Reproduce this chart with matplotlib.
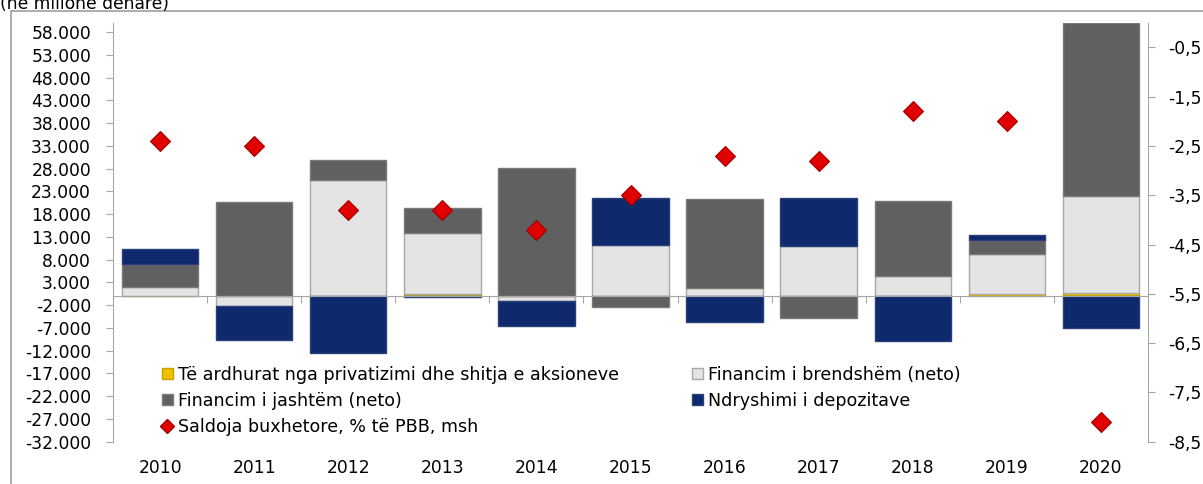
import matplotlib
matplotlib.use("Agg")
import matplotlib.pyplot as plt
import numpy as np
from matplotlib.patches import Rectangle
from matplotlib.lines import Line2D
from matplotlib.ticker import FuncFormatter

years = ["2010", "2011", "2012", "2013", "2014", "2015", "2016", "2017", "2018", "2019", "2020"]
privatization = [0, 0, 0, 400, 100, 0, 0, 0, 0, 400, 700]
domestic = [1900, -2200, 25500, 13400, -1000, 11200, 1800, 11000, 4400, 8800, 21300]
external = [5100, 20700, 4400, 5600, 28100, -2500, 19500, -4900, 16600, 3100, 38100]
deposits = [3400, -7500, -12500, -300, -5500, 10400, -5600, 10600, -9800, 1100, -7000]
balance = [-2.4, -2.5, -3.8, -3.8, -4.2, -3.5, -2.7, -2.8, -1.8, -2.0, -8.1]

labels = ["Të ardhurat nga privatizimi dhe shitja e aksioneve",
          "Financim i brendshëm (neto)",
          "Financim i jashtëm (neto)",
          "Ndryshimi i depozitave",
          "Saldoja buxhetore, % të PBB, msh"]
colors = ["#F2C200", "#E4E4E4", "#606060", "#0E2A6C"]
edges = ["#C9A000", "#A8A8A8", "#7A7A7A", "#2A3F7A"]

plt.rcParams['font.family'] = ['DejaVu Sans']
FS = 12.3
LFS = 12.6

W, H = 1203, 484
fig = plt.figure(figsize=(W / 100, H / 100), dpi=100)
ax = fig.add_axes([113.3 / W, 1 - 441.7 / H, (1147.7 - 113.3) / W, (441.7 - 22.7) / H])

x = np.arange(len(years))
width = 0.81
pos_bottom = np.zeros(len(years))
neg_bottom = np.zeros(len(years))
for vals, c, e in zip([privatization, domestic, external, deposits], colors, edges):
    v = np.array(vals, dtype=float)
    bottoms = np.where(v >= 0, pos_bottom, neg_bottom)
    ax.bar(x, v, width=width, bottom=bottoms, color=c, edgecolor=e, linewidth=1.0, zorder=3)
    pos_bottom = pos_bottom + np.where(v >= 0, v, 0)
    neg_bottom = neg_bottom + np.where(v < 0, v, 0)

ax.set_xlim(-0.5, len(years) - 0.5)
ax.set_ylim(-32000, 60100)
ax.set_yticks(np.arange(-32000, 58001, 5000))
ax.yaxis.set_major_formatter(FuncFormatter(lambda v, p: f"{int(v):,}".replace(",", ".")))

for s in ["top", "right"]:
    ax.spines[s].set_visible(False)
ax.spines["left"].set_color("#A6A6A6")
ax.spines["bottom"].set_position(("data", 0))
ax.spines["bottom"].set_color("#A6A6A6")
ax.spines["bottom"].set_zorder(4)

ax.set_xticks(np.arange(0.5, len(years) - 0.5, 1.0))
ax.set_xticklabels([])
ax.tick_params(axis="x", which="major", length=5, color="#A6A6A6", direction="out")
ax.set_xticks(x, minor=True)
ax.set_xticklabels(years, minor=True)
ax.tick_params(axis="x", which="minor", length=0, pad=117, labelsize=FS)
ax.tick_params(axis="y", length=5, color="#A6A6A6", pad=11, labelsize=FS)

ax2 = ax.twinx()
ax2.set_ylim(-8.5, 0)
ax2.set_yticks(np.arange(-8.5, -0.4, 1.0))
ax2.yaxis.set_major_formatter(FuncFormatter(lambda v, p: f"{v:.1f}".replace(".", ",")))
for s in ["top", "left", "bottom"]:
    ax2.spines[s].set_visible(False)
ax2.spines["right"].set_color("#A6A6A6")
ax2.tick_params(axis="y", length=5, color="#A6A6A6", pad=10, labelsize=FS)
ax2.plot(x, balance, linestyle="none", marker="D", markersize=10.5, markerfacecolor="#E00000",
         markeredgecolor="#A00000", markeredgewidth=0.8, zorder=5)

handles = [Rectangle((0, 0), 1, 1, facecolor=colors[0], edgecolor=edges[0]),
           Rectangle((0, 0), 1, 1, facecolor=colors[2], edgecolor=edges[2]),
           Line2D([], [], linestyle="none", marker="D", markersize=7, markerfacecolor="#E00000",
                  markeredgecolor="#A00000"),
           Rectangle((0, 0), 1, 1, facecolor=colors[1], edgecolor=edges[1]),
           Rectangle((0, 0), 1, 1, facecolor=colors[3], edgecolor=edges[3])]
hl = [labels[0], labels[2], labels[4], labels[1], labels[3]]
fig.legend(handles, hl, ncol=2, loc="upper left", bbox_to_anchor=(162 / W, 1 - 366 / H),
           frameon=False, fontsize=LFS, handlelength=0.6, handleheight=0.6, handletextpad=0.3,
           columnspacing=4.2, labelspacing=0.45, borderpad=0, borderaxespad=0)

fig.text(0 / W, 1 - 9 / H, "(ne milionë denare)", fontsize=FS, ha="left", va="baseline")
fig.patches.append(Rectangle((11 / W, -0.1), 1.2, 1 - 11 / H + 0.1, transform=fig.transFigure,
                             fill=False, edgecolor="#A0A0A0", linewidth=1.2))

fig.savefig("out.png", dpi=100)
